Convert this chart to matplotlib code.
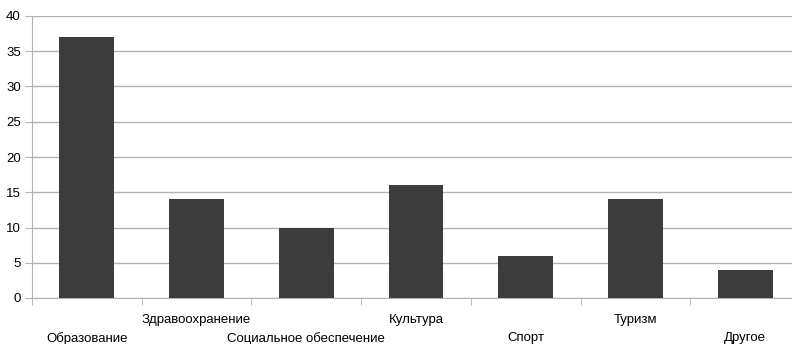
import matplotlib.pyplot as plt
import numpy as np

# data
categories = ['Образование', 'Здравоохранение', 'Социальное обеспечение',
              'Культура', 'Спорт', 'Туризм', 'Другое']
values = [37, 14, 10, 16, 6, 14, 4]

plt.rcParams['font.family'] = ['Liberation Sans', 'DejaVu Sans']

fig = plt.figure(figsize=(7.92, 3.44), dpi=100)
ax = fig.add_axes([32/792, 46/344, 768/792, 282/344])

x = np.arange(len(categories))
ax.bar(x, values, width=0.5, color='#3c3c3c', zorder=3)

ax.set_xlim(-0.5, len(categories) - 0.5)
ax.set_ylim(0, 40)
ax.set_yticks(range(0, 41, 5))
ax.yaxis.grid(True, color='#b3b3b3', linewidth=1)
ax.set_axisbelow(True)

for s in ['top', 'right']:
    ax.spines[s].set_visible(False)
for s in ['left', 'bottom']:
    ax.spines[s].set_color('#b3b3b3')

ax.tick_params(axis='y', length=5, color='#b3b3b3', labelsize=9.5, pad=3)

# category labels, staggered in two rows
ax.set_xticks(x)
ax.set_xticklabels(categories, fontsize=9.5)
ax.tick_params(axis='x', which='major', length=0)
for i, t in enumerate(ax.xaxis.get_major_ticks()):
    t.set_pad(24.5 if i % 2 == 0 else 11.5)

# tick marks between categories
ax.set_xticks(np.arange(-0.5, len(categories), 1), minor=True)
ax.tick_params(axis='x', which='minor', length=5, color='#b3b3b3')

fig.savefig('out.png', dpi=100)
